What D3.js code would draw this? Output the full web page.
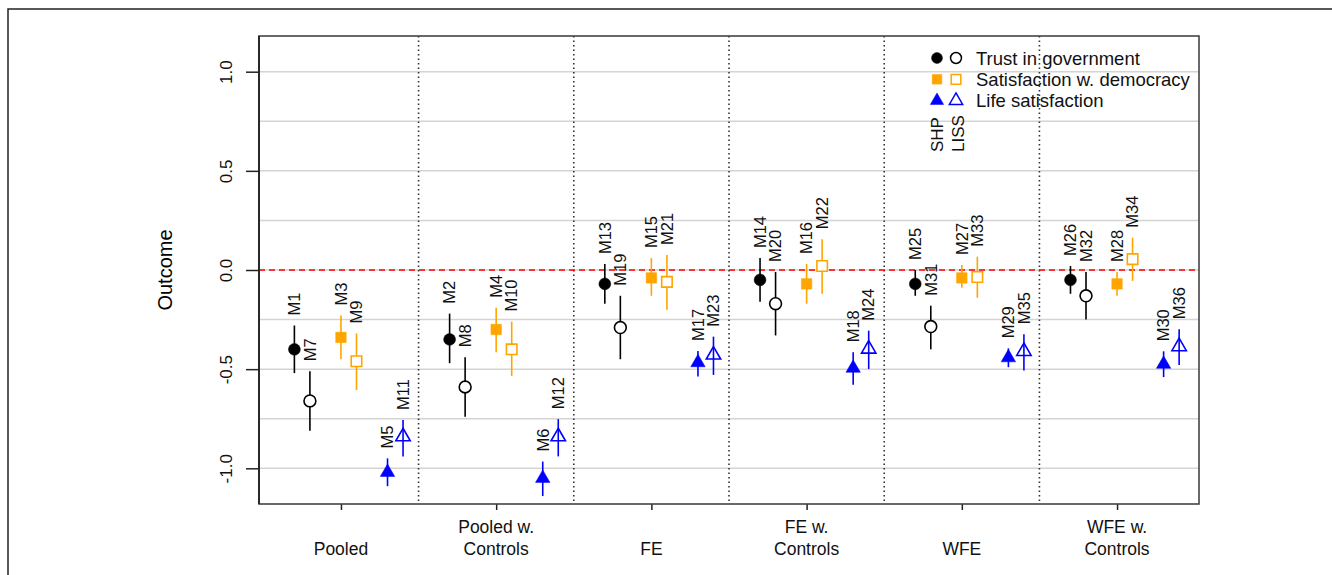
<!DOCTYPE html>
<html>
<head>
<meta charset="utf-8">
<script src="https://cdn.jsdelivr.net/npm/d3@7"></script>
<style>
  body { margin: 0; background: #fff; }
  svg { font-family: "Liberation Sans", Arial, sans-serif; }
</style>
</head>
<body>
<svg width="1332" height="575"></svg>
<script>
// groups on the x axis (two-line labels)
const categories = [["Pooled"], ["Pooled w.", "Controls"], ["FE"], ["FE w.", "Controls"], ["WFE"], ["WFE w.", "Controls"]];
const yTicks = [-1.0, -0.5, 0.0, 0.5, 1.0];
const gridValues = [-1.0, -0.75, -0.5, -0.25, 0, 0.25, 0.5, 0.75, 1.0];

// model labels per series
const trustShpLabels = ["M1", "M2", "M13", "M14", "M25", "M26"];
const trustLissLabels = ["M7", "M8", "M19", "M20", "M31", "M32"];
const satShpLabels = ["M3", "M4", "M15", "M16", "M27", "M28"];
const satLissLabels = ["M9", "M10", "M21", "M22", "M33", "M34"];
const lifeShpLabels = ["M5", "M6", "M17", "M18", "M29", "M30"];
const lifeLissLabels = ["M11", "M12", "M23", "M24", "M35", "M36"];

// estimates and confidence bounds per series
const trustShpEst = [-0.40, -0.35, -0.07, -0.05, -0.07, -0.05];
const trustShpLo = [-0.52, -0.47, -0.17, -0.16, -0.13, -0.12];
const trustShpHi = [-0.28, -0.22, 0.03, 0.06, 0.00, 0.02];

const trustLissEst = [-0.66, -0.59, -0.29, -0.17, -0.285, -0.13];
const trustLissLo = [-0.81, -0.74, -0.45, -0.33, -0.40, -0.25];
const trustLissHi = [-0.51, -0.44, -0.13, -0.01, -0.18, -0.01];

const satShpEst = [-0.34, -0.30, -0.04, -0.07, -0.04, -0.07];
const satShpLo = [-0.45, -0.415, -0.13, -0.17, -0.09, -0.13];
const satShpHi = [-0.23, -0.19, 0.06, 0.03, 0.025, -0.01];

const satLissEst = [-0.46, -0.40, -0.06, 0.02, -0.035, 0.055];
const satLissLo = [-0.605, -0.535, -0.20, -0.12, -0.14, -0.055];
const satLissHi = [-0.32, -0.26, 0.076, 0.155, 0.067, 0.163];

const lifeShpEst = [-1.02, -1.05, -0.467, -0.495, -0.442, -0.475];
const lifeShpLo = [-1.09, -1.14, -0.537, -0.579, -0.49, -0.54];
const lifeShpHi = [-0.95, -0.966, -0.408, -0.415, -0.395, -0.41];

const lifeLissEst = [-0.84, -0.84, -0.428, -0.398, -0.41, -0.386];
const lifeLissLo = [-0.94, -0.94, -0.529, -0.499, -0.507, -0.479];
const lifeLissHi = [-0.756, -0.752, -0.336, -0.306, -0.324, -0.299];

const legendNames = ["Trust in government", "Satisfaction w. democracy", "Life satisfaction"];

const black = "#000", orange = "#FFA500", blue = "#0000FF";

const series = [
    { labels: trustShpLabels, est: trustShpEst, lo: trustShpLo, hi: trustShpHi, off: -0.3, color: black, shape: "circle", filled: true },
    { labels: trustLissLabels, est: trustLissEst, lo: trustLissLo, hi: trustLissHi, off: -0.2, color: black, shape: "circle", filled: false },
    { labels: satShpLabels, est: satShpEst, lo: satShpLo, hi: satShpHi, off: 0.0, color: orange, shape: "square", filled: true },
    { labels: satLissLabels, est: satLissEst, lo: satLissLo, hi: satLissHi, off: 0.1, color: orange, shape: "square", filled: false },
    { labels: lifeShpLabels, est: lifeShpEst, lo: lifeShpLo, hi: lifeShpHi, off: 0.3, color: blue, shape: "triangle", filled: true },
    { labels: lifeLissLabels, est: lifeLissEst, lo: lifeLissLo, hi: lifeLissHi, off: 0.4, color: blue, shape: "triangle", filled: false }
];

const svg = d3.select("svg"),
    margin = { top: 36, right: 133, bottom: 71, left: 259 },
    width = +svg.attr("width") - margin.left - margin.right,
    height = +svg.attr("height") - margin.top - margin.bottom;

// outer frame
svg.append("rect")
    .attr("x", 8).attr("y", 9)
    .attr("width", 1400).attr("height", 700)
    .attr("fill", "none").attr("stroke", "#222").attr("stroke-width", 1.5);

const chart = svg.append("g")
    .attr("transform", `translate(${margin.left},${margin.top})`);

const x = d3.scaleLinear().domain([0.472, 6.528]).range([0, width]);
const y = d3.scaleLinear().domain([-1.18, 1.18]).range([height, 0]);

// grid
chart.selectAll(".grid")
    .data(gridValues)
    .enter()
    .append("line")
    .attr("x1", 0).attr("x2", width)
    .attr("y1", d => y(d)).attr("y2", d => y(d))
    .attr("stroke", "#d4d4d4").attr("stroke-width", 1.5);

// dotted group dividers
chart.selectAll(".divider")
    .data(d3.range(1, categories.length))
    .enter()
    .append("line")
    .attr("x1", d => x(d + 0.5)).attr("x2", d => x(d + 0.5))
    .attr("y1", 0).attr("y2", height)
    .attr("stroke", "#333").attr("stroke-width", 1.6)
    .attr("stroke-dasharray", "1.5,3");

// zero line
chart.append("line")
    .attr("x1", 0).attr("x2", width)
    .attr("y1", y(0)).attr("y2", y(0))
    .attr("stroke", "#ff0000").attr("stroke-width", 1.5)
    .attr("stroke-dasharray", "6,4");

// y axis
const yAxis = chart.append("g")
    .call(d3.axisLeft(y).tickValues(yTicks).tickFormat(d3.format(".1f")).tickSize(13).tickSizeOuter(0));
yAxis.select(".domain").remove();
yAxis.selectAll("line").attr("stroke", "#222").attr("stroke-width", 1.5);
yAxis.selectAll("text")
    .attr("transform", "rotate(-90)")
    .attr("x", 0).attr("y", -33)
    .attr("dy", "0.35em")
    .style("text-anchor", "middle")
    .style("font-size", "17px")
    .style("font-family", "Liberation Sans, Arial, sans-serif")
    .attr("fill", "#111")
    .text(d => d3.format(".1f")(d).replace("−", "-"));

// x axis ticks
const xAxis = chart.append("g")
    .attr("transform", `translate(0,${height})`)
    .call(d3.axisBottom(x).tickValues(d3.range(1, categories.length + 1)).tickSize(6).tickFormat(""));
xAxis.select(".domain").remove();
xAxis.selectAll("line").attr("stroke", "#222").attr("stroke-width", 1.5);

// x labels
categories.forEach((lines, i) => {
    const t = chart.append("text")
        .attr("x", x(i + 1))
        .attr("text-anchor", "middle")
        .style("font-size", "17.5px")
        .attr("fill", "#111");
    lines.forEach((ln, j) => {
        t.append("tspan")
            .attr("x", x(i + 1))
            .attr("y", height + 51 - (lines.length - 1 - j) * 22)
            .text(ln);
    });
});

// plot box
chart.append("rect")
    .attr("width", width).attr("height", height)
    .attr("fill", "none").attr("stroke", "#444").attr("stroke-width", 1.6);
chart.append("line")
    .attr("x1", 0).attr("x2", 0).attr("y1", 0).attr("y2", height)
    .attr("stroke", "#222").attr("stroke-width", 1.8);

// y label
svg.append("text")
    .attr("transform", "rotate(-90)")
    .attr("x", -(margin.top + y(0)))
    .attr("y", 165)
    .attr("dy", "0.35em")
    .style("text-anchor", "middle")
    .style("font-size", "20px")
    .text("Outcome");

function symbolPath(shape, size) {
    const type = shape === "circle" ? d3.symbolCircle : shape === "square" ? d3.symbolSquare : d3.symbolTriangle;
    return d3.symbol().type(type).size(size)();
}
const sizes = { circle: 110, square: 110, triangle: 90 };

// points, intervals and model labels
series.forEach(s => {
    const pts = s.est.map((e, i) => ({ xv: i + 1 + s.off, est: e, lo: s.lo[i], hi: s.hi[i], label: s.labels[i] }));
    const g = chart.append("g");

    g.selectAll("line")
        .data(pts)
        .enter()
        .append("line")
        .attr("x1", d => x(d.xv)).attr("x2", d => x(d.xv))
        .attr("y1", d => y(d.lo)).attr("y2", d => y(d.hi))
        .attr("stroke", s.color).attr("stroke-width", 1.6);

    g.selectAll("path")
        .data(pts)
        .enter()
        .append("path")
        .attr("d", symbolPath(s.shape, sizes[s.shape]))
        .attr("transform", d => `translate(${x(d.xv)},${y(d.est)})`)
        .attr("fill", s.filled ? s.color : (s.shape === "triangle" ? "none" : "#fff"))
        .attr("stroke", s.color)
        .attr("stroke-width", s.filled ? 0.5 : 1.6);

    g.selectAll("text")
        .data(pts)
        .enter()
        .append("text")
        .attr("transform", d => `translate(${x(d.xv)},${y(d.hi) - 10}) rotate(-90)`)
        .attr("dy", "0.35em")
        .style("font-size", "16.5px")
        .attr("fill", "#111")
        .text(d => d.label);
});

// legend
const legend = svg.append("g");
const legendShapes = [["circle", black], ["square", orange], ["triangle", blue]];
legendNames.forEach((name, i) => {
    const ly = 58 + i * 21.3;
    const [shape, color] = legendShapes[i];
    legend.append("path")
        .attr("d", symbolPath(shape, sizes[shape] * 0.85))
        .attr("transform", `translate(937,${ly})`)
        .attr("fill", color).attr("stroke", color).attr("stroke-width", 0.5);
    legend.append("path")
        .attr("d", symbolPath(shape, sizes[shape] * 0.85))
        .attr("transform", `translate(956,${ly})`)
        .attr("fill", "none").attr("stroke", color).attr("stroke-width", 1.5);
    legend.append("text")
        .attr("x", 976).attr("y", ly)
        .attr("dy", "0.36em")
        .style("font-size", "18.5px")
        .attr("fill", "#111")
        .text(name);
});
["SHP", "LISS"].forEach((t, i) => {
    legend.append("text")
        .attr("transform", `translate(${937 + i * 21},152) rotate(-90)`)
        .attr("dy", "0.36em")
        .style("font-size", "17px")
        .attr("fill", "#111")
        .text(t);
});
</script>
</body>
</html>
